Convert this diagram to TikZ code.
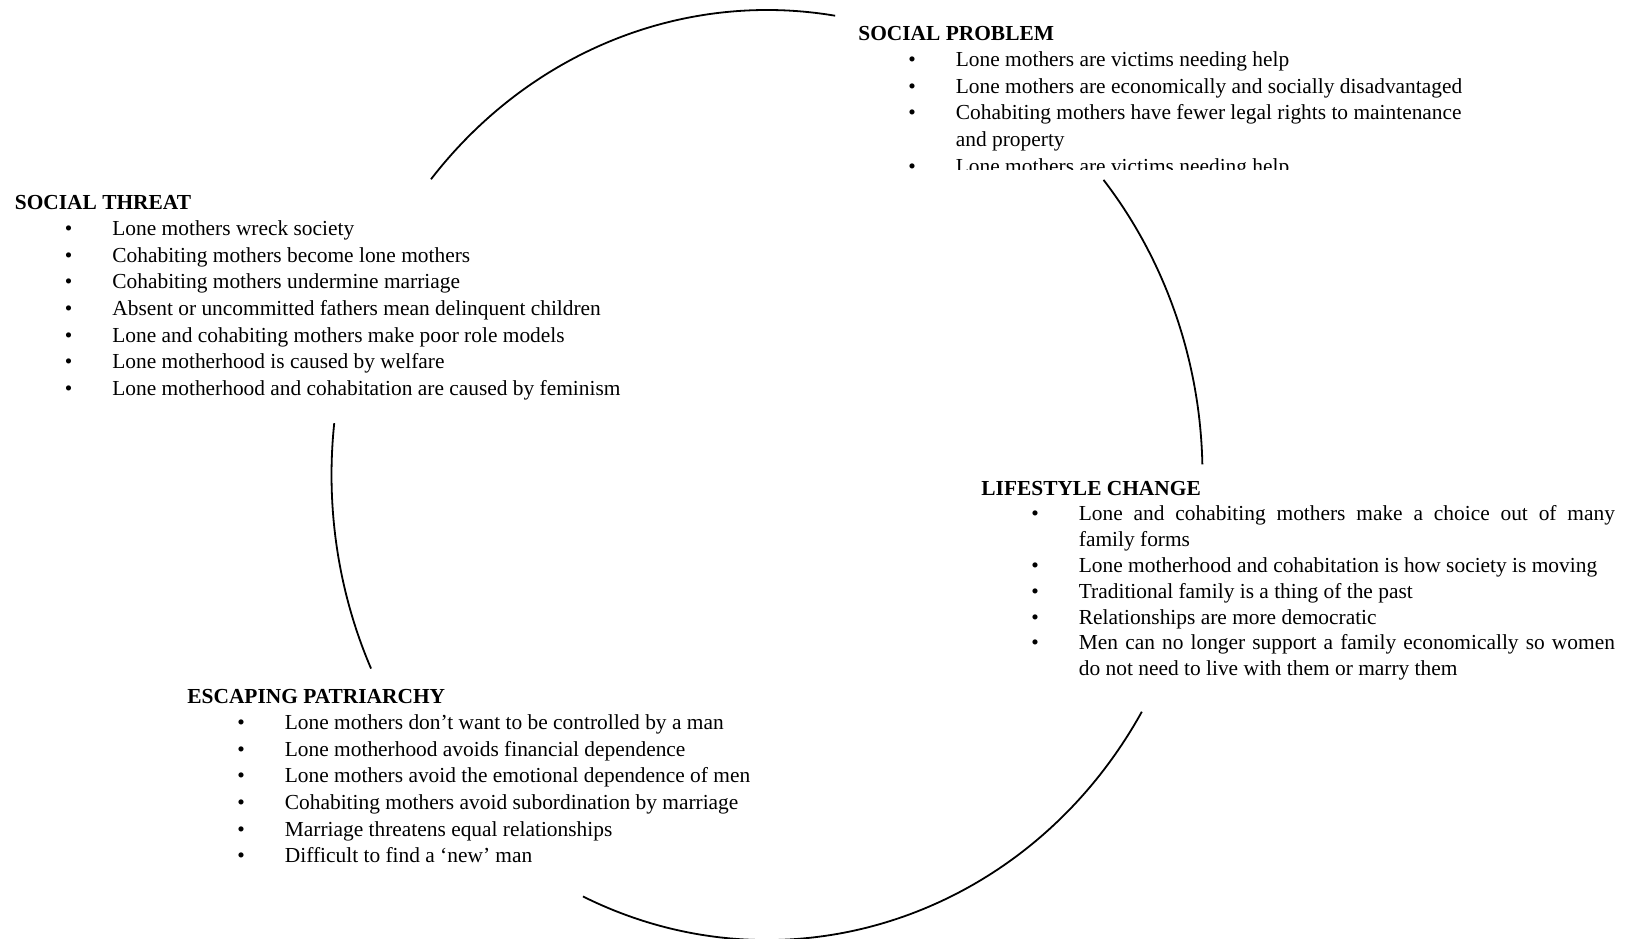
\documentclass[tikz,border=0pt]{standalone}
\usepackage{fontspec}
\setmainfont{Liberation Serif}

\tikzset{
  view/.style={anchor=base west, inner sep=0pt, font=\fontsize{10.7pt}{13.3pt}\selectfont},
  ring/.style={line width=0.9pt},
}
% heading and bullet list of one view
\newcommand{\viewlist}[3]{%
  \begin{tabular}[t]{@{\hspace{25pt}}l@{\hspace{20pt}}p{#1}@{}}
    \multicolumn{2}{@{}l@{}}{\textbf{#2}}\\
    #3
  \end{tabular}}

\begin{document}
\begin{tikzpicture}[x=0.5pt, y=-0.5pt]
    \useasboundingbox (0,0) rectangle (1626,938);
    \coordinate (hub) at (767,475);

    % the four views
    \begin{scope}
        \clip (800,0) rectangle (1626,169);
        \node[view] (problem) at (858,40) {\viewlist{270pt}{SOCIAL PROBLEM}{%
            \textbullet & Lone mothers are victims needing help\\
            \textbullet & Lone mothers are economically and socially disadvantaged\\
            \textbullet & Cohabiting mothers have fewer legal rights to maintenance\newline and property\\
            \textbullet & Lone mothers are victims needing help\\}};
    \end{scope}
    \node[view] (threat) at (14.5,209) {\viewlist{262pt}{SOCIAL THREAT}{%
        \textbullet & Lone mothers wreck society\\
        \textbullet & Cohabiting mothers become lone mothers\\
        \textbullet & Cohabiting mothers undermine marriage\\
        \textbullet & Absent or uncommitted fathers mean delinquent children\\
        \textbullet & Lone and cohabiting mothers make poor role models\\
        \textbullet & Lone motherhood is caused by welfare\\
        \textbullet & Lone motherhood and cohabitation are caused by feminism\\}};
    \node[view, font=\fontsize{10.7pt}{12.9pt}\selectfont] (lifestyle) at (981,495) {\viewlist{268pt}{LIFESTYLE CHANGE}{%
        \textbullet & Lone and cohabiting mothers make a choice out of many\linebreak family forms\\
        \textbullet & Lone motherhood and cohabitation is how society is moving\\
        \textbullet & Traditional family is a thing of the past\\
        \textbullet & Relationships are more democratic\\
        \textbullet & Men can no longer support a family economically so women\linebreak do not need to live with them or marry them\\}};
    \node[view] (patriarchy) at (187,703) {\viewlist{245pt}{ESCAPING PATRIARCHY}{%
        \textbullet & Lone mothers don’t want to be controlled by a man\\
        \textbullet & Lone motherhood avoids financial dependence\\
        \textbullet & Lone mothers avoid the emotional dependence of men\\
        \textbullet & Cohabiting mothers avoid subordination by marriage\\
        \textbullet & Marriage threatens equal relationships\\
        \textbullet & Difficult to find a ‘new’ man\\}};

    % the ring between them
    \draw[ring] ([shift={(-140.5:435.5 and 465)}]hub) arc[start angle=-140.5, end angle=-81, x radius=435.5, y radius=465];
    \draw[ring] ([shift={(-39.4:435.5 and 465)}]hub) arc[start angle=-39.4, end angle=-1.3, x radius=435.5, y radius=465];
    \draw[ring] ([shift={(30.6:435.5 and 465)}]hub) arc[start angle=30.6, end angle=115, x radius=435.5, y radius=465];
    \draw[ring] ([shift={(186.4:435.5 and 465)}]hub) arc[start angle=186.4, end angle=155.4, x radius=435.5, y radius=465];
\end{tikzpicture}
\end{document}
